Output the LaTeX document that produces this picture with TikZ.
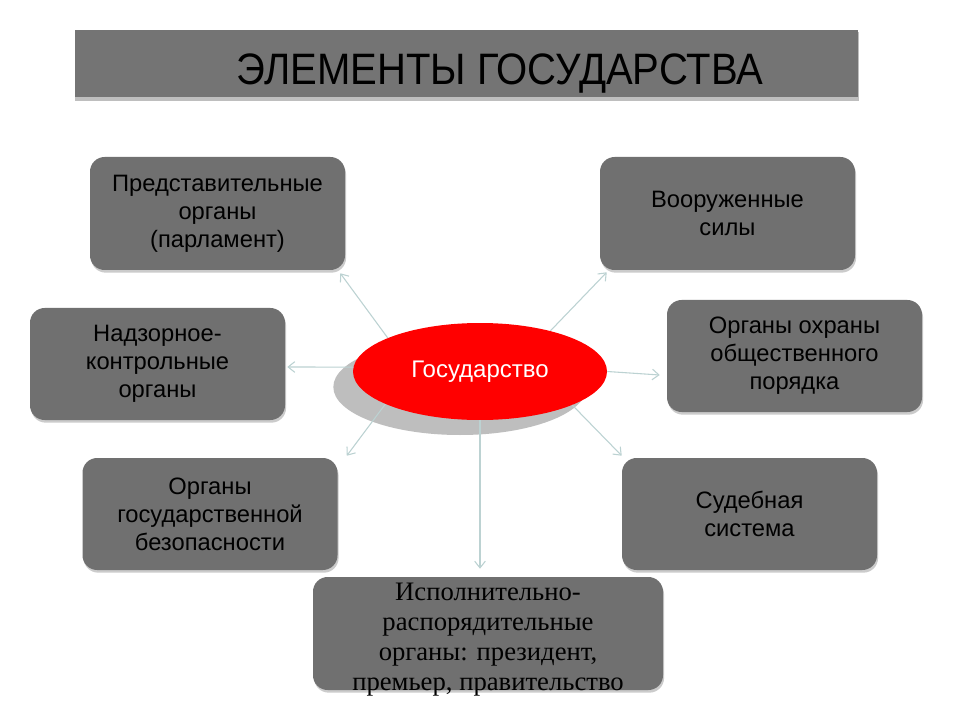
\documentclass[tikz,border=0pt]{standalone}
\usepackage{fontspec}
\setmainfont{Liberation Sans}
\newfontfamily\serifru{Liberation Serif}
\usetikzlibrary{shapes.geometric,calc,shadows,arrows.meta}
\definecolor{boxgray}{HTML}{707070}
\definecolor{bargray}{HTML}{747474}
\definecolor{shadegray}{HTML}{BEBEBE}
\definecolor{arrowc}{HTML}{BCD2D2}
\definecolor{statered}{HTML}{FF0000}
\tikzset{
  gbox/.style={rectangle, rounded corners=11pt, fill=boxgray, draw=none,
    minimum width=191.25pt, minimum height=84.75pt, inner sep=0pt,
    align=center, font=\fontsize{17.8}{21}\selectfont,
    drop shadow={shadow xshift=0.8pt, shadow yshift=-2pt, fill=black!25, opacity=0.8}},
  conn/.style={draw=arrowc, line width=0.8pt, -{Straight Barb[length=5pt,width=8pt]}},
}
\begin{document}
\begin{tikzpicture}[x=0.75pt,y=-0.75pt]
\useasboundingbox (0,0) rectangle (960,720);
\fill[white] (0,0) rectangle (960,720);
% title bar
\fill[shadegray] (75,32) rectangle (859,101);
\node[rectangle, fill=bargray, minimum width=587.25pt, minimum height=50.25pt, inner sep=0pt, anchor=north west] (bar) at (75,30) {};
\node[inner sep=0pt] (title) at (500,74) {\scalebox{0.91}[1]{\fontsize{33}{33}\selectfont ЭЛЕМЕНТЫ ГОСУДАРСТВА}};
% boxes
\node[gbox] (b1) at (217.5,213.5) {Представительные\\органы\\(парламент)};
\node[gbox] (b2) at (727.5,213.5) {Вооруженные\\силы};
\node[gbox, minimum height=84pt] (b3) at (157.5,364) {Надзорное-\\контрольные\\органы};
\node[gbox, minimum height=84pt] (b4) at (794.5,356) {Органы охраны\\общественного\\порядка};
\node[gbox, minimum height=84pt] (b5) at (210,514) {Органы\\государственной\\безопасности};
\node[gbox, minimum height=84pt] (b6) at (749.5,514) {Судебная\\система};
\node[gbox, minimum width=262.5pt] (b7) at (488,633.5) {};
\node[inner sep=0pt, align=center, font=\serifru\fontsize{20}{22.5}\selectfont] (t7) at (488,640)
  {Исполнительно-\\распорядительные\\органы: президент,\\премьер, правительство};
% central ellipse
\node[ellipse, fill=shadegray, minimum width=190pt, minimum height=72pt, inner sep=0pt] (sh) at (460,387) {};
\node[ellipse, fill=statered, minimum width=190.5pt, minimum height=72.75pt, inner sep=0pt,
  text=white, font=\fontsize{18}{21}\selectfont] (st) at (480,371.5) {Государство};
% connectors
\draw[conn] (st.160) -- ($(b1.south east)+(-5,3)$);
\draw[conn] (st.30) -- ($(b2.south west)+(7,2)$);
\draw[conn] (st.178) -- ($(b3.east)+(2,3)$);
\draw[conn] (st.0) -- ($(b4.west)+(-7,19)$);
\draw[conn] (st.199) -- ($(b5.north east)+(9,-2)$);
\draw[conn] (st.-20) -- ($(b6.north west)+(0,-2)$);
\draw[conn] (st.south) -- ($(b7.north)+(-8,-8)$);
\end{tikzpicture}
\end{document}
